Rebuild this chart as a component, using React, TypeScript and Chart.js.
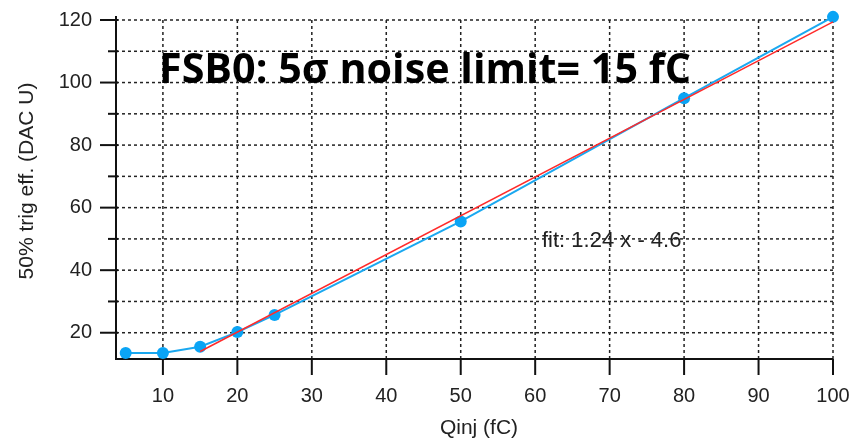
import React, { useEffect, useRef } from "react";
import { Chart, registerables } from "chart.js";

Chart.register(...registerables);

// Measured points: injected charge (fC) vs 50% trigger efficiency (DAC U)
const qinj = [5, 10, 15, 20, 25, 50, 80, 100];
const trigEff = [13.5, 13.5, 15.5, 20.2, 25.7, 55.6, 95.0, 121.0];

// Linear fit (1.24 x - 4.6) end points
const fitX = [15, 100];
const fitY = [14.0, 119.4];

const xTickValues = [10, 20, 30, 40, 50, 60, 70, 80, 90, 100];
const yTickValues = [20, 30, 40, 50, 60, 70, 80, 90, 100, 110, 120];
const yLabelValues = [20, 40, 60, 80, 100, 120];

const titleText = "FSB0: 5\u03c3 noise limit= 15 fC";
const fitText = "fit: 1.24 x - 4.6";
const xTitle = "Qinj (fC)";
const yTitle = "50% trig eff. (DAC U)";

const FONT = "'Liberation Sans', Arial, sans-serif";

const framePlugin = {
  id: "framePlugin",
  beforeDatasetsDraw(chart: any) {
    const { ctx, chartArea: a, scales } = chart;
    const x = scales.x;
    const y = scales.y;
    ctx.save();
    // dotted grid
    ctx.strokeStyle = "#222";
    ctx.lineWidth = 1.5;
    ctx.setLineDash([3, 3]);
    for (const v of xTickValues) {
      const px = x.getPixelForValue(v);
      ctx.beginPath();
      ctx.moveTo(px, a.top);
      ctx.lineTo(px, a.bottom);
      ctx.stroke();
    }
    for (const v of yTickValues) {
      const py = y.getPixelForValue(v);
      ctx.beginPath();
      ctx.moveTo(a.left, py);
      ctx.lineTo(a.right, py);
      ctx.stroke();
    }
    ctx.setLineDash([]);
    // axes
    ctx.strokeStyle = "#111";
    ctx.lineWidth = 2;
    ctx.beginPath();
    ctx.moveTo(a.left, a.top - 4);
    ctx.lineTo(a.left, a.bottom);
    ctx.lineTo(a.right, a.bottom);
    ctx.stroke();
    // y ticks
    for (const v of yTickValues) {
      const py = y.getPixelForValue(v);
      const len = yLabelValues.includes(v) ? 16 : 8;
      ctx.beginPath();
      ctx.moveTo(a.left - len, py);
      ctx.lineTo(a.left + 2, py);
      ctx.stroke();
    }
    // x ticks
    for (const v of xTickValues) {
      const px = x.getPixelForValue(v);
      ctx.beginPath();
      ctx.moveTo(px, a.bottom);
      ctx.lineTo(px, a.bottom + 16);
      ctx.stroke();
    }
    ctx.restore();
  },
  afterDraw(chart: any) {
    const { ctx } = chart;
    ctx.save();
    ctx.fillStyle = "#222";
    // axis titles
    ctx.font = `21px ${FONT}`;
    ctx.textAlign = "center";
    ctx.textBaseline = "alphabetic";
    ctx.fillText(xTitle, 479, 434);
    ctx.save();
    ctx.translate(33, 181);
    ctx.rotate(-Math.PI / 2);
    ctx.fillText(yTitle, 0, 0);
    ctx.restore();
    // fit annotation
    ctx.font = `22px ${FONT}`;
    ctx.textAlign = "left";
    ctx.fillText(fitText, 542, 247);
    // big title
    ctx.fillStyle = "#000";
    ctx.font = `bold 42px 'Open Sans', ${FONT}`;
    const w = ctx.measureText(titleText).width;
    const target = 532;
    ctx.translate(159, 83);
    ctx.scale(target / w, 1);
    ctx.fillText(titleText, 0, 0);
    ctx.restore();
  },
};

export default function App() {
  const ref = useRef<HTMLCanvasElement | null>(null);
  useEffect(() => {
    if (!ref.current) return;
    const chart = new Chart(ref.current, {
      type: "line",
      data: {
        datasets: [
          {
            label: "fit",
            data: fitX.map((v, i) => ({ x: v, y: fitY[i] })),
            borderColor: "#ff2a2a",
            borderWidth: 1.5,
            pointRadius: 0,
            fill: false,
            clip: false as any,
          },
          {
            label: "data",
            data: qinj.map((v, i) => ({ x: v, y: trigEff[i] })),
            borderColor: "#1aa8f0",
            backgroundColor: "#0aa4f5",
            borderWidth: 2,
            pointRadius: 6,
            pointBorderWidth: 0,
            pointStyle: "circle",
            fill: false,
            clip: false as any,
          },
        ],
      },
      options: {
        animation: false,
        responsive: false,
        layout: { autoPadding: false, padding: { left: 0, top: 20, right: 18, bottom: 0 } },
        plugins: { legend: { display: false }, tooltip: { enabled: false } },
        scales: {
          x: {
            type: "linear",
            min: 3.7,
            max: 100,
            afterBuildTicks: (s: any) => {
              s.ticks = xTickValues.map((v) => ({ value: v }));
            },
            afterFit: (s: any) => {
              s.height = 81;
              s.paddingLeft = 0;
              s.paddingRight = 0;
            },
            grid: { display: false, drawTicks: false },
            border: { display: false },
            ticks: {
              font: { family: FONT, size: 20 },
              color: "#222",
              padding: 25,
              maxRotation: 0,
              autoSkip: false,
            },
          },
          y: {
            type: "linear",
            min: 11.6,
            max: 120,
            afterBuildTicks: (s: any) => {
              s.ticks = yTickValues.map((v) => ({ value: v }));
            },
            afterFit: (s: any) => {
              s.width = 116;
              s.paddingTop = 0;
              s.paddingBottom = 0;
            },
            grid: { display: false, drawTicks: false },
            border: { display: false },
            ticks: {
              font: { family: FONT, size: 20 },
              color: "#222",
              padding: 24,
              autoSkip: false,
              callback: (v: any) => (yLabelValues.includes(Number(v)) ? String(v) : ""),
            },
          },
        },
      },
      plugins: [framePlugin],
    });
    return () => chart.destroy();
  }, []);
  return (
    <div style={{ position: "absolute", left: 0, top: 0, width: 851, height: 440, background: "#fff" }}>
      <canvas ref={ref} width={851} height={440} />
    </div>
  );
}
